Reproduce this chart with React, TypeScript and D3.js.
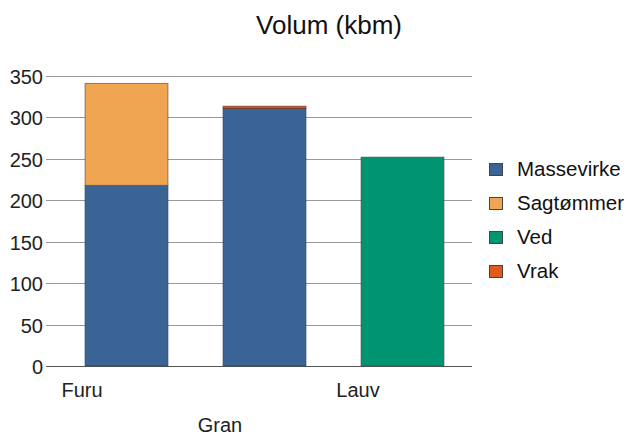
import React from "react";
import * as d3 from "d3";

const categories = ["Furu", "Gran", "Lauv"];
const seriesNames = ["Massevirke", "Sagtømmer", "Ved", "Vrak"];
const massevirke = [218, 311, 0];
const sagtommer = [123, 0, 0];
const ved = [0, 0, 252];
const vrak = [0, 2.5, 0];
const colors = ["#3a6496", "#f0a553", "#009471", "#e05a1e"];
const strokes = ["#2a3c55", "#6b5030", "#3a4a44", "#6b3018"];
const yTicks = [0, 50, 100, 150, 200, 250, 300, 350];

export default function App() {
  const W = 629, H = 436;
  const left = 52, right = 472, top = 76, bottom = 366;
  const y = d3.scaleLinear().domain([0, 350]).range([bottom, top]);
  const x = d3.scaleBand().domain(categories).range([57.5, 471.5]).paddingInner(0.4).paddingOuter(0.2);
  const series = [massevirke, sagtommer, ved, vrak];
  const rows = categories.map((c, i) => {
    const r: any = { cat: c };
    seriesNames.forEach((s, j) => (r[s] = series[j][i]));
    return r;
  });
  const stacked = d3.stack().keys(seriesNames)(rows);
  const font = "Liberation Sans, Arial, sans-serif";
  return (
    <svg width={W} height={H} style={{ position: "absolute", left: 0, top: 0 }} fontFamily={font}>
      <rect width={W} height={H} fill="#fff" />
      <text x={329} y={34} textAnchor="middle" fontSize={26} fill="#111">Volum (kbm)</text>
      {yTicks.map((t) => (
        <g key={t}>
          <line x1={46} x2={right} y1={Math.round(y(t)) + 0.5} y2={Math.round(y(t)) + 0.5} stroke={t === 0 ? "#555" : "#999"} strokeWidth={1} />
          <text x={43} y={y(t) + 8} textAnchor="end" fontSize={20} fill="#222">{t}</text>
        </g>
      ))}
      {stacked.map((s, j) => (
        <g key={s.key}>
          {s.map((d, i) => {
            const h = y(d[0]) - y(d[1]);
            if (h <= 0) return null;
            return (
              <rect key={i} x={x(categories[i])!} width={x.bandwidth()} y={y(d[1])} height={h}
                fill={colors[j]} stroke={strokes[j]} strokeOpacity={0.7} strokeWidth={1} />
            );
          })}
        </g>
      ))}
      {categories.map((c, i) => (
        <text key={c} x={x(c)! + x.bandwidth() / 2 - 44.5} y={i % 2 === 0 ? 397 : 432}
          textAnchor="middle" fontSize={20} fill="#222">{c}</text>
      ))}
      {seriesNames.map((s, j) => (
        <g key={s} transform={`translate(489, ${163 + j * 34})`}>
          <rect x={0.5} y={0.5} width={13} height={12} fill={colors[j]} stroke="#444" strokeWidth={1} />
          <text x={28} y={13} fontSize={20.5} fill="#111">{s}</text>
        </g>
      ))}
    </svg>
  );
}
